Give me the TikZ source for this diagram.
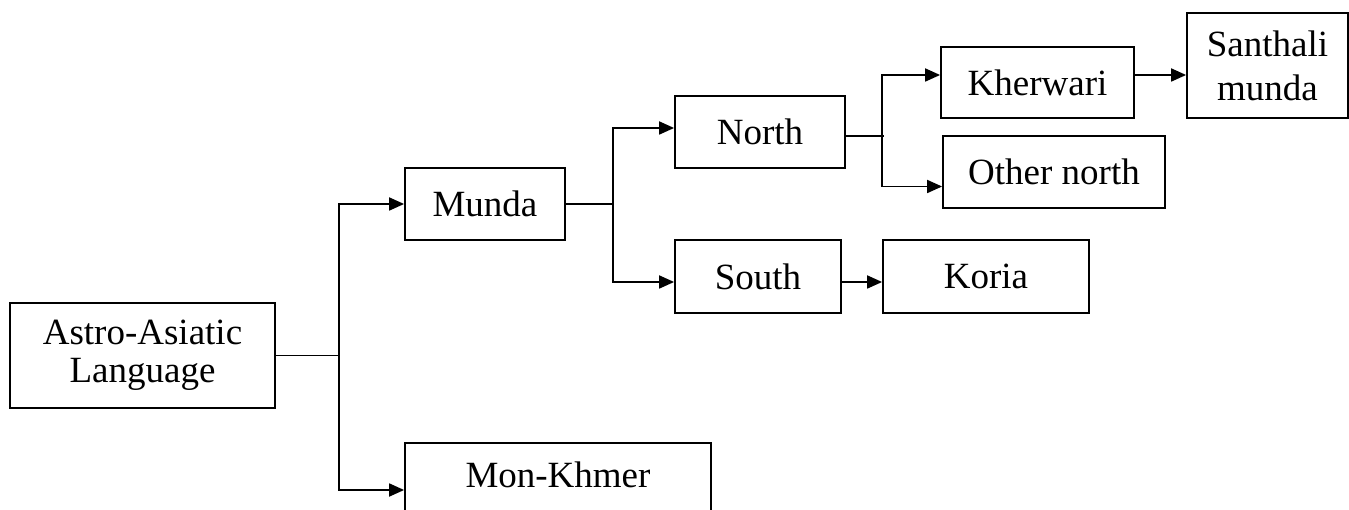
\documentclass[tikz,border=0pt]{standalone}
\usepackage{fontspec}
\setmainfont{Liberation Serif}
\usetikzlibrary{arrows.meta}

\tikzset{
  box/.style={draw=black, line width=1.8pt, rectangle, inner sep=0pt,
    align=center, font=\fontsize{37}{41}\selectfont},
  link/.style={draw=black, line width=1.8pt},
  arr/.style={link, -{Triangle[length=15pt,width=13pt]}}
}

\begin{document}
\begin{tikzpicture}[x=1pt,y=-1pt]
  % page frame
  \clip (0,0) rectangle (1349,510);
  \fill[white] (0,0) rectangle (1349,510);

  % boxes
  \node[box, minimum width=265pt, minimum height=105pt,
        font=\fontsize{37}{38}\selectfont] (astro) at (142.5,355.5)
    {Astro-Asiatic\\Language};
  \node[box, minimum width=160pt, minimum height=72pt] (munda) at (485,204) {Munda};
  \node[box, minimum width=306pt, text height=25pt, text depth=31pt, inner ysep=19pt]
    (monkhmer) at (558,490) {Mon-Khmer};
  \node[box, minimum width=170pt, minimum height=72pt] (north) at (760,132) {North};
  \node[box, minimum width=166pt, minimum height=73pt] (south) at (758,276.5) {South};
  \node[box, minimum width=206pt, minimum height=73pt] (koria) at (986,276.5) {Koria};
  \node[box, minimum width=193pt, minimum height=71pt] (kherwari) at (1037.5,82.5) {Kherwari};
  \node[box, minimum width=222pt, minimum height=72pt] (othernorth) at (1054,172) {Other north};
  \node[box, minimum width=161pt, minimum height=105pt,
        font=\fontsize{37}{44}\selectfont] (santhali) at (1267.5,65.5)
    {Santhali\\munda};

  % junction points
  \coordinate (j1) at (339,355.5);
  \coordinate (j2) at (613,204);
  \coordinate (j3) at (882,136);
  \coordinate (j3end) at (884,136);

  % connectors
  \draw[link] (astro.east) -- (j1);
  \draw[arr] (j1) |- (munda.west);
  \draw[arr] (j1) |- (monkhmer.west);

  \draw[link] (munda.east) -- (j2);
  \draw[arr] (j2) |- ([yshift=4pt]north.west);
  \draw[arr] (j2) |- ([yshift=-5.5pt]south.west);

  \draw[link] ([yshift=-4pt]north.east) -- (j3end);
  \draw[arr] (j3) |- ([yshift=7.5pt]kherwari.west);
  \draw[arr] (j3) |- ([yshift=-14.5pt]othernorth.west);

  \draw[arr] ([yshift=7.5pt]kherwari.east) -- ([yshift=7.5pt]kherwari.east -| santhali.west);
  \draw[arr] ([yshift=-5.5pt]south.east) -- ([yshift=-5.5pt]south.east -| koria.west);
\end{tikzpicture}
\end{document}
